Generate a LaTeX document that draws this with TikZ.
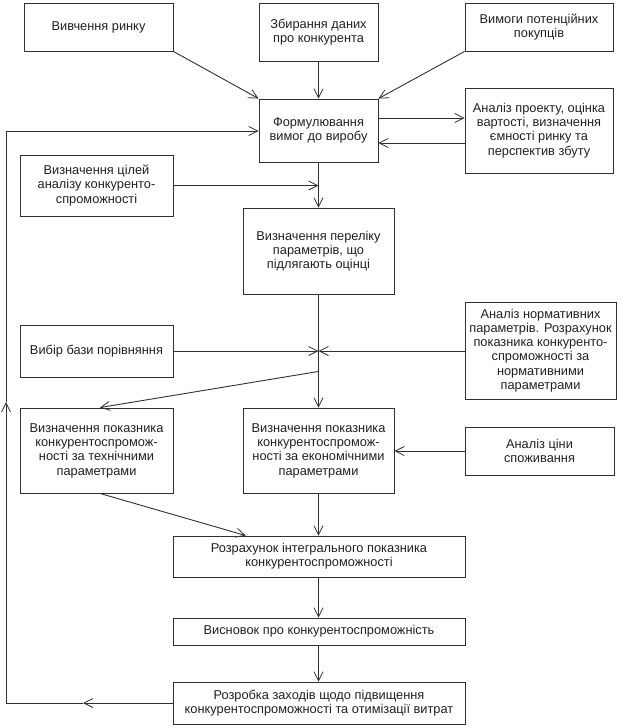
\documentclass[tikz,border=0pt]{standalone}
\usepackage{fontspec}
\setmainfont{Liberation Sans}
\usetikzlibrary{arrows.meta,calc}
\definecolor{linec}{HTML}{303030}
\definecolor{textc}{HTML}{202020}
\begin{document}
\begin{tikzpicture}[x=1pt,y=-1pt,
  box/.style={draw=linec, line width=0.9pt, align=center, inner sep=0pt, font=\fontsize{12.8}{14.3}\selectfont, text=textc},
  arr/.style={draw=linec, line width=0.9pt, -{Straight Barb[length=9pt,width=9pt,line width=0.8pt]}},
  ln/.style={draw=linec, line width=0.9pt}]
\useasboundingbox (0,0) rectangle (623,728);
\node[box, minimum width=149pt, minimum height=48pt] (b1) at (98.5,27) {Вивчення ринку};
\node[box, minimum width=119pt, minimum height=58pt] (b2) at (318.5,32) {Збирання даних\\про конкурента};
\node[box, minimum width=148pt, minimum height=48pt] (b3) at (539,27) {Вимоги потенційних\\покупців};
\node[box, minimum width=119pt, minimum height=63pt] (b4) at (318.5,130.5) {Формулювання\\вимог до виробу};
\node[box, minimum width=148pt, minimum height=85pt] (b5) at (539,130.5) {Аналіз проекту, оцінка\\вартості, визначення\\ємності ринку та\\перспектив збуту};
\node[box, minimum width=153pt, minimum height=61pt] (b6) at (96.5,185.5) {Визначення цілей\\аналізу конкуренто-\\спроможності};
\node[box, minimum width=151pt, minimum height=86pt] (b7) at (318.5,251) {Визначення переліку\\параметрів, що\\підлягають оцінці};
\node[box, minimum width=151pt, minimum height=97pt] (b8) at (540.5,350.5) {Аналіз нормативних\\параметрів. Розрахунок\\показника конкуренто-\\спроможності за\\нормативними\\параметрами};
\node[box, minimum width=153pt, minimum height=52pt] (b9) at (96.5,351) {Вибір бази порівняння};
\node[box, minimum width=153pt, minimum height=85pt] (b10) at (96.5,450.5) {Визначення показника\\конкурентоспромож-\\ності за технічними\\параметрами};
\node[box, minimum width=151pt, minimum height=85pt] (b11) at (318.5,450.5) {Визначення показника\\конкурентоспромож-\\ності за економічними\\параметрами};
\node[box, minimum width=149pt, minimum height=48pt] (b12) at (539.5,451) {Аналіз ціни\\споживання};
\node[box, minimum width=292pt, minimum height=41pt] (b13) at (319,556.5) {Розрахунок інтегрального показника\\конкурентоспроможності};
\node[box, minimum width=292pt, minimum height=27pt] (b14) at (319,631.5) {Висновок про конкурентоспроможність};
\node[box, minimum width=292pt, minimum height=42pt] (b15) at (319,703) {Розробка заходів щодо підвищення\\конкурентоспроможності та отимізації витрат};
% top inputs
\draw[arr] (b1.south east) -- (b4.north west);
\draw[arr] (b2.south) -- (b4.north);
\draw[arr] (b3.south west) -- (b4.north east);
\draw[arr] ($(b4.east)+(0,-12.5)$) -- ($(b5.west)+(0,-12.5)$);
\draw[arr] ($(b5.west)+(0,12.5)$) -- ($(b4.east)+(0,12.5)$);
% main axis
\draw[arr] (b4.south) -- (b7.north);
\draw[arr] (b6.east) -- (b6.east -| b4.south);
\coordinate (j) at (b9.east -| b7.south);
\draw[arr] (b7.south) -- (b11.north);
\draw[arr] (b9.east) -- (j);
\draw[arr] (b8.west |- j) -- (j);
\coordinate (d) at ($(b7.south)+(0,77)$);
\draw[arr] (d) -- ($(b10.north)+(3.5,0)$);
\draw[arr] (b12.west) -- (b12.west -| b11.east);
\draw[arr] ($(b10.south)+(3.5,0)$) -- ($(b13.north west)!0.25!(b13.north east)$);
\draw[arr] (b11.south) -- (b11.south |- b13.north);
\draw[arr] (b13.south -| b11.south) -- (b14.north -| b11.south);
\draw[arr] (b14.south -| b11.south) -- (b15.north -| b11.south);
% feedback loop
\coordinate (f1) at (6,703);
\coordinate (f2) at (6,131);
\coordinate (fa) at (83,703);
\coordinate (fb) at (6,402);
\draw[arr] (b15.west) -- (fa);
\draw[ln] (fa) -- (f1);
\draw[arr] (f1) -- (fb);
\draw[ln] (fb) -- (f2);
\draw[arr] (f2) -- (f2 -| b4.west);
\end{tikzpicture}
\end{document}
